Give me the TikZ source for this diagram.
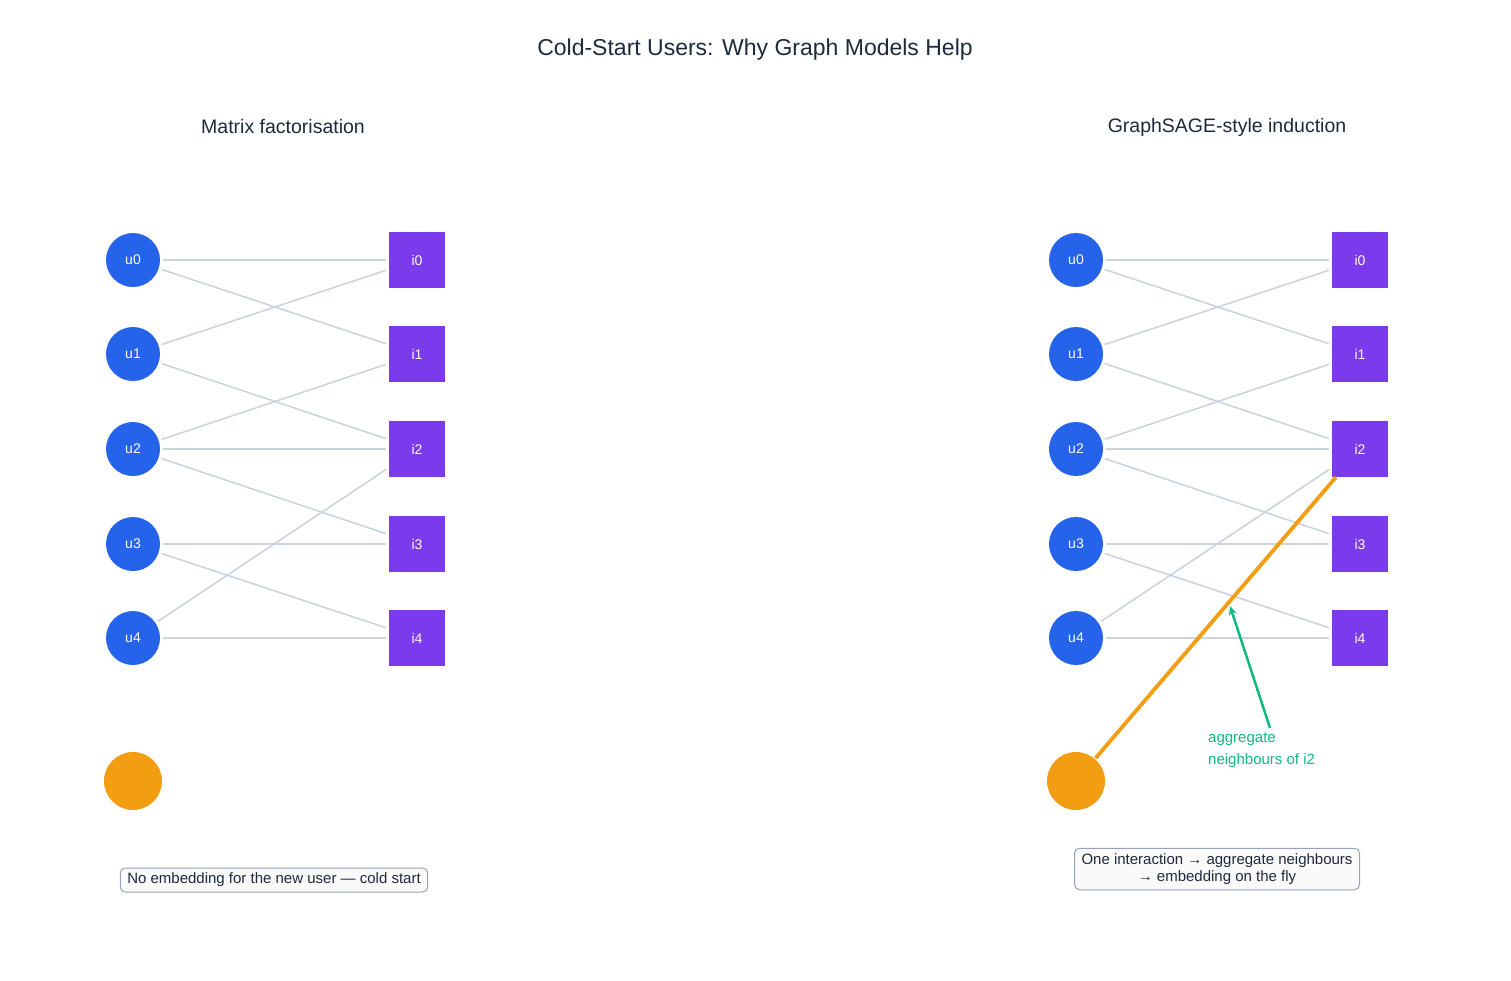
\documentclass[tikz,border=0pt]{standalone}
\usepackage{fontspec}
\setmainfont{Liberation Sans}
\usetikzlibrary{arrows.meta}
\definecolor{ublue}{HTML}{2563EB}
\definecolor{ipurp}{HTML}{7C3AED}
\definecolor{orng}{HTML}{F39E12}
\definecolor{grn}{HTML}{10B981}
\definecolor{edgec}{HTML}{CDD3DD}
\definecolor{txt}{HTML}{1E293B}
\definecolor{boxb}{HTML}{94A3B8}
\tikzset{
 user/.style={circle,fill=ublue,minimum size=54pt,inner sep=0,text=white,font=\fontsize{14}{16}\selectfont},
 item/.style={rectangle,fill=ipurp,minimum size=56pt,inner sep=0,text=white,font=\fontsize{14}{16}\selectfont},
 newu/.style={circle,fill=orng,minimum size=58pt,inner sep=0},
 edg/.style={draw=edgec,line width=1.6pt,shorten <=3pt,shorten >=3pt},
 capbox/.style={draw=boxb,fill=gray!4,rounded corners=5pt,line width=1pt,text=txt,align=center,font=\fontsize{15}{17.5}\selectfont,inner xsep=7pt,inner ysep=5pt},
}
\begin{document}
\begin{tikzpicture}[x=1pt,y=-1pt]
\useasboundingbox (0,0) rectangle (1511,980);
\node[text=txt,font=\fontsize{23}{26}\selectfont] (title) at (755,50) {Cold-Start Users: Why Graph Models Help};
\node[text=txt,font=\fontsize{19.5}{22}\selectfont] (tl) at (283,127) {Matrix factorisation};
\node[text=txt,font=\fontsize{19.5}{22}\selectfont] (tr) at (1227,127) {GraphSAGE-style induction};
\foreach \s/\ux/\ix in {l/133/417, r/1076/1360}{
 \foreach \k/\y in {0/260,1/354,2/449,3/544,4/638}{
  \node[user] (u\k\s) at (\ux,\y) {u\k};
  \node[item] (i\k\s) at (\ix,\y) {i\k};
 }
 \foreach \a/\b in {0/0,0/1,1/0,1/2,2/1,2/2,2/3,3/3,3/4,4/2,4/4}
  \draw[edg] (u\a\s) -- (i\b\s);
 \node[newu] (nu\s) at (\ux,781) {};
}
\draw[orng,line width=3.8pt,shorten <=1pt] (nur) -- (i2r);
\coordinate (gtail) at (1270,728);
\coordinate (ghead) at (1230,606);
\draw[grn,line width=2.5pt,-{Stealth[length=9pt,width=8pt]}] (gtail) -- (ghead);
\node[text=grn,align=left,anchor=north west,inner sep=0,font=\fontsize{15}{22}\selectfont] (glab) at (1208,733) {aggregate\\neighbours of i2};
\node[capbox] (capl) at (274,880) {No embedding for the new user — cold start};
\node[capbox] (capr) at (1217,869) {One interaction → aggregate neighbours\\→ embedding on the fly};
\end{tikzpicture}
\end{document}
